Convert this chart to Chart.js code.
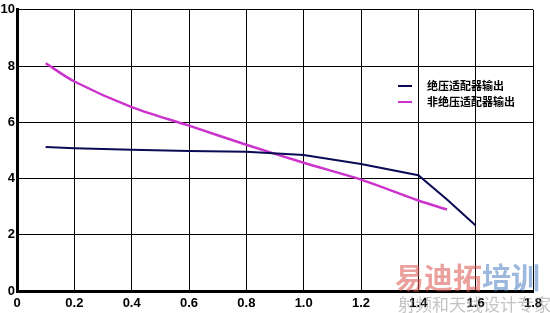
<!DOCTYPE html>
<html>
<head>
<meta charset="utf-8">
<script src="https://cdn.jsdelivr.net/npm/chart.js@4.4.0/dist/chart.umd.min.js"></script>
<style>
  html, body { margin: 0; padding: 0; background: #fff; }
  #wrap { width: 550px; height: 313px; }
</style>
</head>
<body>
<div id="wrap"><canvas id="myChart" width="550" height="313"></canvas></div>
<script>
// values
const absX = [0.1, 0.2, 0.4, 0.6, 0.8, 1.0, 1.2, 1.4, 1.5, 1.6];
const absY = [5.12, 5.08, 5.02, 4.98, 4.95, 4.84, 4.52, 4.12, 3.25, 2.33];
const relX = [0.1, 0.2, 0.4, 0.6, 0.8, 1.0, 1.2, 1.4, 1.5];
const relY = [8.1, 7.45, 6.54, 5.88, 5.2, 4.56, 3.96, 3.22, 2.9];
const seriesNames = ['绝压适配器输出', '非绝压适配器输出'];
const seriesColors = ['#0a0a55', '#cc33cc'];
const watermark = ['易迪拓培训', '射频和天线设计专家'];

const toPoints = (xs, ys) => xs.map((x, i) => ({ x: x, y: ys[i] }));

const legendPlugin = {
  id: 'sideLegend',
  afterDraw(chart) {
    const ctx = chart.ctx;
    ctx.save();
    chart.data.datasets.forEach((ds, i) => {
      const y = 86 + i * 16;
      ctx.strokeStyle = ds.borderColor;
      ctx.lineWidth = 2;
      ctx.beginPath();
      ctx.moveTo(398, y);
      ctx.lineTo(412, y);
      ctx.stroke();
      ctx.fillStyle = '#000';
      ctx.font = 'bold 11px "Noto Sans CJK SC"';
      ctx.textBaseline = 'middle';
      ctx.fillText(ds.label, 427, y);
    });
    // faded watermark at bottom right
    ctx.globalAlpha = 0.55;
    ctx.font = 'bold 29px "Noto Sans CJK SC"';
    ctx.textBaseline = 'alphabetic';
    ctx.fillStyle = '#d9534f';
    ctx.fillText(watermark[0].slice(0, 3), 395, 289);
    ctx.fillStyle = '#4a7fc1';
    ctx.fillText(watermark[0].slice(3), 482, 289);
    ctx.globalAlpha = 0.5;
    ctx.fillStyle = '#888';
    ctx.font = '17px "Noto Sans CJK SC"';
    ctx.fillText(watermark[1], 398, 311);
    ctx.restore();
  }
};

const ctx = document.getElementById('myChart').getContext('2d');
new Chart(ctx, {
  type: 'line',
  data: {
    datasets: [
      {
        label: seriesNames[0],
        data: toPoints(absX, absY),
        borderColor: seriesColors[0],
        borderWidth: 2,
        pointRadius: 0,
        tension: 0,
      },
      {
        label: seriesNames[1],
        data: toPoints(relX, relY),
        borderColor: seriesColors[1],
        borderWidth: 2.5,
        pointRadius: 0,
        tension: 0.3,
      },
    ],
  },
  options: {
    responsive: false,
    animation: false,
    layout: { padding: { top: 8, right: 17, left: 0, bottom: 0 } },
    plugins: {
      legend: { display: false },
      tooltip: { enabled: false },
    },
    scales: {
      x: {
        type: 'linear',
        min: 0,
        max: 1.8,
        grid: { color: '#000', lineWidth: 1, drawTicks: false },
        border: { color: '#000', width: 3 },
        ticks: {
          stepSize: 0.2,
          color: '#000',
          font: { family: 'Liberation Sans', size: 13, weight: 'bold' },
          padding: 5,
          maxRotation: 0,
          callback: (v) => (Math.abs(v) < 1e-9 ? '0' : Number(v).toFixed(1)),
        },
        afterFit: (scale) => { scale.height = 22; },
      },
      y: {
        min: 0,
        max: 10,
        grid: { color: '#000', lineWidth: 1, drawTicks: false },
        border: { color: '#000', width: 3 },
        ticks: {
          stepSize: 2,
          color: '#000',
          font: { family: 'Liberation Sans', size: 13, weight: 'bold' },
          padding: 2,
        },
        afterFit: (scale) => { scale.width = 17; },
      },
    },
  },
  plugins: [legendPlugin],
});
</script>
</body>
</html>
